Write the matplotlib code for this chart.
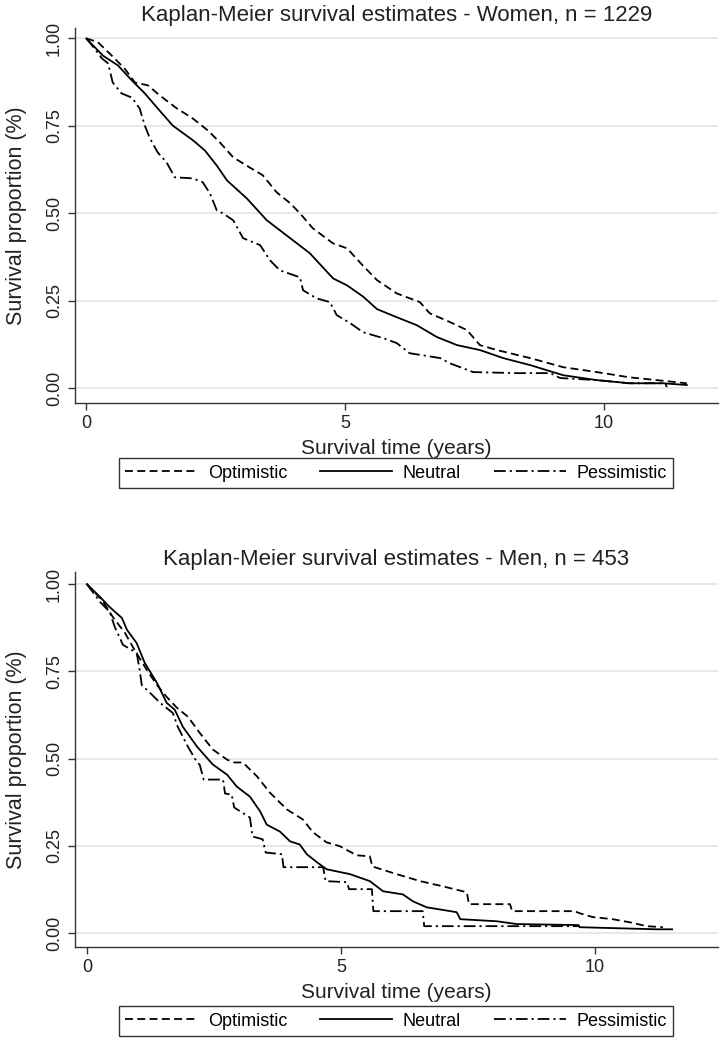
import matplotlib.pyplot as plt
import numpy as np

plt.rcParams['font.family'] = ['Liberation Sans', 'DejaVu Sans']

# ---- data ----
# Women (n = 1229)
w_opt_t = [0, 0.22, 0.45, 0.74, 0.94, 1.19, 1.42, 1.75, 2.06, 2.35, 2.58, 2.84, 3.16, 3.41, 3.68,
           3.94, 4.13, 4.38, 4.77, 5.04, 5.35, 5.62, 6.0, 6.45, 6.64, 7.03, 7.36, 7.61, 7.94,
           8.58, 9.22, 9.87, 10.5, 11.03, 11.61]
w_opt_s = [1.0, 0.99, 0.957, 0.914, 0.874, 0.866, 0.837, 0.80, 0.771, 0.737, 0.703, 0.66, 0.631, 0.609, 0.56,
           0.529, 0.50, 0.457, 0.414, 0.40, 0.35, 0.309, 0.271, 0.246, 0.214, 0.189, 0.166, 0.123, 0.109,
           0.086, 0.06, 0.046, 0.031, 0.023, 0.014]

w_neu_t = [0, 0.32, 0.61, 0.88, 1.13, 1.38, 1.67, 2.06, 2.29, 2.52, 2.72, 3.1, 3.49, 3.94, 4.32,
           4.77, 5.04, 5.35, 5.62, 6.0, 6.39, 6.78, 7.17, 7.61, 8.06, 8.58, 9.22, 9.87, 10.5,
           11.15, 11.61]
w_neu_s = [1.0, 0.951, 0.923, 0.88, 0.843, 0.80, 0.751, 0.709, 0.68, 0.637, 0.594, 0.543, 0.48, 0.429, 0.386,
           0.314, 0.294, 0.262, 0.226, 0.203, 0.18, 0.146, 0.123, 0.109, 0.086, 0.066, 0.037, 0.023, 0.014,
           0.014, 0.009]

w_pes_t = [0, 0.16, 0.3, 0.42, 0.51, 0.68, 0.88, 1.03, 1.13, 1.23, 1.38, 1.55, 1.71, 2.06, 2.25,
           2.39, 2.52, 2.64, 2.84, 3.03, 3.36, 3.55, 3.74, 4.13, 4.19, 4.45, 4.71, 4.84, 5.1,
           5.35, 5.74, 6.0, 6.25, 6.84, 7.03, 7.48, 8.32, 8.97, 9.16, 9.87, 10.5, 11.2, 11.22]
w_pes_s = [1.0, 0.971, 0.943, 0.929, 0.874, 0.843, 0.831, 0.80, 0.751, 0.714, 0.674, 0.646, 0.603, 0.60, 0.589,
           0.557, 0.509, 0.50, 0.48, 0.429, 0.409, 0.366, 0.337, 0.317, 0.28, 0.257, 0.246, 0.209, 0.186,
           0.16, 0.143, 0.129, 0.10, 0.086, 0.071, 0.046, 0.043, 0.043, 0.029, 0.023, 0.014, 0.014, 0.003]

# Men (n = 453) - visible steps given as corner points
m_opt_t = [0, 0.3, 0.51, 0.75, 0.94, 1.18, 1.38, 1.57, 1.77, 1.99, 2.22, 2.48, 2.76, 2.9, 3.07, 3.35,
           3.6, 3.94, 4.25, 4.45, 4.72, 4.98, 5.31, 5.57, 5.62, 6.1, 6.56, 7.01, 7.48, 7.52, 8.33,
           8.37, 9.6, 9.7, 9.96, 10.35, 10.69, 11.02, 11.34]
m_opt_s = [1.0, 0.954, 0.906, 0.86, 0.811, 0.754, 0.711, 0.677, 0.646, 0.62, 0.574, 0.526, 0.497, 0.489, 0.489, 0.449,
           0.403, 0.354, 0.326, 0.289, 0.26, 0.249, 0.223, 0.22, 0.191, 0.169, 0.149, 0.134, 0.117, 0.083, 0.083,
           0.063, 0.063, 0.057, 0.046, 0.04, 0.031, 0.02, 0.017]

m_neu_t = [0, 0.26, 0.45, 0.69, 0.79, 0.98, 1.14, 1.38, 1.57, 1.73, 1.89, 2.17, 2.48, 2.76, 2.95,
           3.21, 3.41, 3.54, 3.8, 4.0, 4.19, 4.33, 4.53, 4.72, 5.18, 5.57, 5.83, 6.22, 6.42,
           6.69, 7.28, 7.35, 8.07, 8.46, 9.68, 9.7, 11.22, 11.52]
m_neu_s = [1.0, 0.963, 0.934, 0.903, 0.869, 0.831, 0.774, 0.717, 0.66, 0.64, 0.591, 0.534, 0.483, 0.454, 0.42,
           0.391, 0.349, 0.311, 0.291, 0.263, 0.254, 0.226, 0.203, 0.183, 0.169, 0.149, 0.12, 0.111, 0.091,
           0.074, 0.06, 0.04, 0.034, 0.026, 0.023, 0.017, 0.011, 0.011]

m_pes_t = [0, 0.26, 0.45, 0.55, 0.71, 0.98, 1.04, 1.08, 1.24, 1.44, 1.69, 1.79, 1.99, 2.17, 2.22, 2.3,
           2.68, 2.72, 2.85, 2.9, 3.21, 3.26, 3.46, 3.52, 3.84, 3.87, 4.65, 4.7, 5.12, 5.16, 5.61,
           5.64, 6.61, 6.64, 9.7]
m_pes_s = [1.0, 0.949, 0.92, 0.877, 0.826, 0.803, 0.754, 0.711, 0.689, 0.66, 0.631, 0.591, 0.534, 0.489, 0.483, 0.44,
           0.44, 0.40, 0.397, 0.36, 0.331, 0.277, 0.269, 0.231, 0.226, 0.189, 0.189, 0.149, 0.146, 0.126, 0.126,
           0.063, 0.063, 0.02, 0.02]

labels = ['Optimistic', 'Neutral', 'Pessimistic']
y_ticks = [0, 0.25, 0.5, 0.75, 1.0]
x_ticks = [0, 5, 10]

lw = 1.3
styles = [(0, (4.4, 2.4)), '-', (0, (6.5, 2.2, 1.2, 2.2))]

fig = plt.figure(figsize=(7.2, 10.5), dpi=100)


def panel(ax, curves, title, xlim, ylim):
    for (t, s), ls, lab in zip(curves, styles, labels):
        ax.plot(t, s, color='black', lw=lw, linestyle=ls, label=lab)
    ax.set_xlim(*xlim)
    ax.set_ylim(*ylim)
    ax.set_yticks(y_ticks)
    ax.set_yticklabels(['%.2f' % v for v in y_ticks], rotation=90, va='center')
    ax.set_xticks(x_ticks)
    ax.grid(axis='y', color='#e6e6e6', lw=1.3)
    ax.set_axisbelow(True)
    for sp in ['top', 'right']:
        ax.spines[sp].set_visible(False)
    for sp in ['left', 'bottom']:
        ax.spines[sp].set_color('#333333')
        ax.spines[sp].set_linewidth(1.0)
    ax.tick_params(colors='#333333', labelcolor='#222222', labelsize=13, length=5, width=1)
    ax.set_xlabel('Survival time (years)', fontsize=15, color='#222222', labelpad=5)
    ax.set_ylabel('Survival proportion (%)', fontsize=15.5, color='#222222', labelpad=14)
    ax.set_title(title, fontsize=16, color='#222222', pad=5)


ax1 = fig.add_axes([0.104, 0.616, 0.893, 0.357])
panel(ax1, [(w_opt_t, w_opt_s), (w_neu_t, w_neu_s), (w_pes_t, w_pes_s)],
      'Kaplan-Meier survival estimates - Women, n = 1229', (-0.222, 12.21), (-0.043, 1.029))

ax2 = fig.add_axes([0.104, 0.098, 0.893, 0.357])
panel(ax2, [(m_opt_t, m_opt_s), (m_neu_t, m_neu_s), (m_pes_t, m_pes_s)],
      'Kaplan-Meier survival estimates - Men, n = 453', (-0.236, 12.42), (-0.040, 1.034))

for ax, yc in [(ax1, 1 - 473 / 1050), (ax2, 1 - 1021 / 1050)]:
    leg = fig.legend(*ax.get_legend_handles_labels(), loc='center', bbox_to_anchor=(396 / 720, yc),
                     ncol=3, fontsize=13, frameon=True, fancybox=False, edgecolor='black',
                     handlelength=4.0, columnspacing=1.8, handletextpad=0.6, borderpad=0.35)
    leg.get_frame().set_linewidth(1.0)

fig.savefig('out.png', dpi=100)
